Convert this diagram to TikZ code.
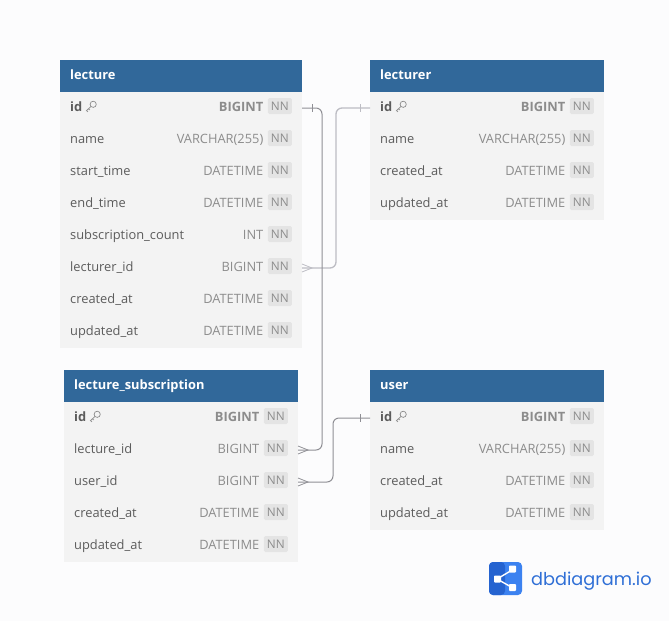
\documentclass[tikz,border=0pt]{standalone}
\usepackage{fontspec}
\setmainfont{Open Sans}
\newfontfamily\logofont{Poppins}
\definecolor{pagebg}{HTML}{FCFCFD}
\definecolor{headbg}{HTML}{31689A}
\definecolor{rowbg}{HTML}{F3F3F3}
\definecolor{labelc}{HTML}{5C5C5C}
\definecolor{typec}{HTML}{8C8C8C}
\definecolor{badgebg}{HTML}{E4E4E4}
\definecolor{connA}{HTML}{8F8F95}
\definecolor{connB}{HTML}{BDBDC4}
\definecolor{logoA}{HTML}{2563D0}
\definecolor{logoB}{HTML}{3C82F0}
\definecolor{logoT}{HTML}{2F6FD6}
\tikzset{
  x=1pt,y=-1pt,
  boxbase/.style={inner sep=0pt,outer sep=0pt,minimum height=32pt,anchor=north west},
  headbox/.style={boxbase,fill=headbg},
  rowbox/.style={boxbase,fill=rowbg},
  headtext/.style={inner sep=0pt,anchor=base west,text=white,font=\fontsize{12.85}{13}\selectfont\bfseries},
  labeltext/.style={inner sep=0pt,anchor=base west,text=labelc,font=\fontsize{12.85}{13}\selectfont},
  typetext/.style={inner sep=0pt,anchor=base east,text=typec,font=\fontsize{12.85}{13}\selectfont},
  badge/.style={inner sep=0pt,minimum width=24pt,minimum height=16pt,rounded corners=1.5pt,fill=badgebg,text=typec,font=\fontsize{11.8}{12}\selectfont,anchor=east},
  conn/.style={line width=1pt,rounded corners=6pt},
  keyicon/.style={line width=.7pt,draw=typec},
  endmark/.style={line width=.8pt}
}
% \tabhead{name}{x}{y}{width}{title}
\newcommand{\tabhead}[5]{%
  \node[headbox,minimum width=#4pt] (#1) at (#2,#3) {};
  \node[headtext] (#1-title) at (#2+10,#3+19) {#5};
}
% \fieldrow{name}{x}{y}{width}{label}{type}
\newcommand{\fieldrow}[6]{%
  \node[rowbox,minimum width=#4pt] (#1) at (#2,#3) {};
  \node[labeltext] (#1-l) at (#2+10,#3+19) {#5};
  \node[badge] (#1-n) at (#2+#4-10,#3+14) {NN};
  \node[typetext] (#1-t) at (#2+#4-38.5,#3+19) {#6};
}
% \keyrow{name}{x}{y}{width}{type}
\newcommand{\keyrow}[5]{%
  \node[rowbox,minimum width=#4pt] (#1) at (#2,#3) {};
  \node[labeltext,font=\fontsize{12.85}{13}\selectfont\bfseries] (#1-l) at (#2+10,#3+19) {id};
  \node[badge] (#1-n) at (#2+#4-10,#3+14) {NN};
  \node[typetext,font=\fontsize{12.85}{13}\selectfont\bfseries] (#1-t) at (#2+#4-38.5,#3+19) {#5};
  \draw[keyicon] (#2+33.2,#3+12.3) circle (3.1pt);
  \draw[keyicon] (#2+31,#3+14.5) -- (#2+26.4,#3+18.6) -- (#2+28,#3+19.8) (#2+28.4,#3+16.8) -- (#2+29.8,#3+18);
}
\begin{document}
\begin{tikzpicture}
\useasboundingbox (0,0) rectangle (669,621);
\fill[pagebg] (0,0) rectangle (669,621);

% lecture
\tabhead{lecture}{60}{60}{242}{lecture}
\keyrow{lecture-id}{60}{92}{242}{BIGINT}
\fieldrow{lecture-name}{60}{124}{242}{name}{VARCHAR(255)}
\fieldrow{lecture-start}{60}{156}{242}{start\_time}{DATETIME}
\fieldrow{lecture-end}{60}{188}{242}{end\_time}{DATETIME}
\fieldrow{lecture-count}{60}{220}{242}{subscription\_count}{INT}
\fieldrow{lecture-lecturer}{60}{252}{242}{lecturer\_id}{BIGINT}
\fieldrow{lecture-created}{60}{284}{242}{created\_at}{DATETIME}
\fieldrow{lecture-updated}{60}{316}{242}{updated\_at}{DATETIME}

% lecturer
\tabhead{lecturer}{370}{60}{234}{lecturer}
\keyrow{lecturer-id}{370}{92}{234}{BIGINT}
\fieldrow{lecturer-name}{370}{124}{234}{name}{VARCHAR(255)}
\fieldrow{lecturer-created}{370}{156}{234}{created\_at}{DATETIME}
\fieldrow{lecturer-updated}{370}{188}{234}{updated\_at}{DATETIME}

% lecture_subscription
\tabhead{sub}{64}{370}{234}{lecture\_subscription}
\keyrow{sub-id}{64}{402}{234}{BIGINT}
\fieldrow{sub-lecture}{64}{434}{234}{lecture\_id}{BIGINT}
\fieldrow{sub-user}{64}{466}{234}{user\_id}{BIGINT}
\fieldrow{sub-created}{64}{498}{234}{created\_at}{DATETIME}
\fieldrow{sub-updated}{64}{530}{234}{updated\_at}{DATETIME}

% user
\tabhead{user}{370}{370}{234}{user}
\keyrow{user-id}{370}{402}{234}{BIGINT}
\fieldrow{user-name}{370}{434}{234}{name}{VARCHAR(255)}
\fieldrow{user-created}{370}{466}{234}{created\_at}{DATETIME}
\fieldrow{user-updated}{370}{498}{234}{updated\_at}{DATETIME}

% connectors
\draw[conn,draw=connB,line width=1.3pt] (lecturer-id.west) -- ++(-34,0) |- (lecture-lecturer.east);
\draw[endmark,draw=connB] (lecture-lecturer.east) ++(0,-4) -- ++(10,4) -- ++(-10,4);
\draw[endmark,draw=connB] (lecturer-id.west) ++(-10,-4) -- ++(0,8);
\draw[conn,draw=connA] (lecture-id.east) -- ++(20,0) |- (sub-lecture.east);
\draw[endmark,draw=connA] (lecture-id.east) ++(10,-4) -- ++(0,8);
\draw[endmark,draw=connA] (sub-lecture.east) ++(0,-4) -- ++(10,4) -- ++(-10,4);
\draw[conn,draw=connA] (user-id.west) -- ++(-37,0) |- (sub-user.east);
\draw[endmark,draw=connA] (user-id.west) ++(-10,-4) -- ++(0,8);
\draw[endmark,draw=connA] (sub-user.east) ++(0,-4) -- ++(10,4) -- ++(-10,4);

% logo
\fill[logoB,rounded corners=4pt] (489,562) rectangle (522,595);
\fill[logoA,rounded corners=4pt] (489,562) -- (505,562) -- (505,595) -- (489,595) -- cycle;
\draw[white,line width=1.4pt] (497,579) -- (513,569.5) (497,579) -- (513,588);
\fill[white,rounded corners=.8pt] (494,575.5) rectangle (501,582.5);
\fill[white,rounded corners=.8pt] (509,565.5) rectangle (516,572.5);
\fill[white,rounded corners=.8pt] (509,584) rectangle (516,591);
\node[inner sep=0pt,anchor=base west,text=logoT,font=\logofont\fontsize{17.7}{18}\selectfont] (logotext) at (531,585) {dbdiagram.io};
\end{tikzpicture}
\end{document}
